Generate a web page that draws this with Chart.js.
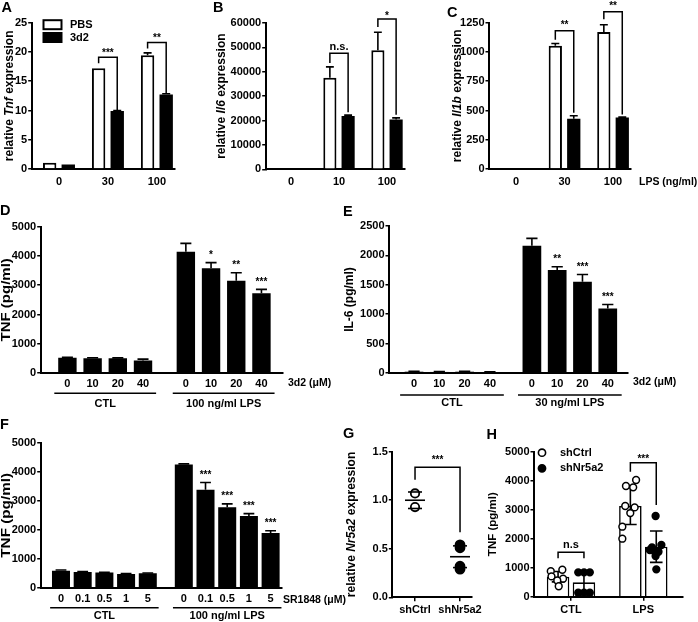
<!DOCTYPE html>
<html>
<head>
<meta charset="utf-8">
<script src="https://cdn.jsdelivr.net/npm/chart.js@4.4.1/dist/chart.umd.min.js"></script>
<style>
  html, body { margin: 0; padding: 0; background: #fff; }
  #fig { position: relative; width: 698px; height: 622px; overflow: hidden; }
  #fig canvas { position: absolute; left: 0; top: 0; }
</style>
</head>
<body>
<div id="fig"></div>
<script>
// ---- data ----
// A: relative Tnf expression
const aGroups = ["0", "30", "100"];
const aPBS = [1.05, 17.2, 19.45];
const aPBSErr = [0, 0, 0.4];
const a3d2 = [0.75, 9.9, 12.75];
const a3d2Err = [0, 0.1, 0.1];

// B: relative Il6 expression
const bGroups = ["0", "10", "100"];
const bPBS = [0, 37500, 48800];
const bPBSErr = [0, 4500, 7400];
const b3d2 = [0, 21900, 20400];
const b3d2Err = [0, 300, 700];

// C: relative Il1b expression
const cGroups = ["0", "30", "100"];
const cPBS = [0, 1052, 1170];
const cPBSErr = [0, 20, 62];
const c3d2 = [4, 430, 440];
const c3d2Err = [0, 25, 3];

// D: TNF, 3d2 doses
const dDoses = ["0", "10", "20", "40"];
const dCTL = [524, 501, 501, 430];
const dCTLErr = [15, 20, 15, 45];
const dLPS = [4146, 3576, 3155, 2722];
const dLPSErr = [285, 195, 273, 137];
const dStars = ["", "*", "**", "***"];

// E: IL-6, 3d2 doses
const eDoses = ["0", "10", "20", "40"];
const eCTL = [22, 18, 22, 15];
const eCTLErr = [6, 5, 6, 5];
const eLPS = [2165, 1750, 1551, 1097];
const eLPSErr = [125, 57, 125, 68];
const eStars = ["", "**", "***", "***"];

// F: TNF, SR1848 doses
const fDoses = ["0", "0.1", "0.5", "1", "5"];
const fCTL = [597, 552, 530, 485, 507];
const fCTLErr = [20, 10, 10, 10, 10];
const fLPS = [4248, 3380, 2783, 2479, 1893];
const fLPSErr = [25, 248, 113, 79, 79];
const fStars = ["", "***", "***", "***", "***"];

// G: relative Nr5a2 expression
const gGroups = ["shCtrl", "shNr5a2"];
const gCtrl = [1.07, 0.93];
const gKd = [0.54, 0.51, 0.32, 0.29];
const gMean = [1.0, 0.418];
const gSD = [0.085, 0.112];

// H: TNF, shCtrl vs shNr5a2
const hGroups = ["CTL", "LPS"];
const hCtrl = [690, 3128];
const hCtrlErr = [180, 640];
const hKd = [497, 1724];
const hKdErr = [370, 540];
// single wells; *J = sideways jitter inside the group (group units)
const hCtrlCTL = [880, 930, 700, 620, 560, 360];
const hCtrlCTLJ = [-0.28, -0.12, -0.27, -0.11, -0.19, -0.17];
const hCtrlLPS = [4024, 3817, 3772, 3128, 3080, 2885, 2414, 2000];
const hCtrlLPSJ = [-0.10, -0.24, -0.14, -0.25, -0.12, -0.18, -0.29, -0.29];
const hKdCTL = [841, 841, 841, 138, 138, 138];
const hKdCTLJ = [0.10, 0.18, 0.26, 0.10, 0.18, 0.26];
const hKdLPS = [2783, 1782, 1700, 1610, 1552, 1550, 1400, 943];
const hKdLPSJ = [0.17, 0.25, 0.12, 0.09, 0.16, 0.21, 0.17, 0.18];

// ---- drawing helpers ----
const W = 698, H = 622;
const FONT = "'Liberation Sans', Arial, sans-serif";
const fig = document.getElementById("fig");
const tickFont = { family: FONT, size: 11, weight: "bold" };

function font(size, italic) {
  return (italic ? "italic " : "") + "bold " + size + "px " + FONT;
}

function yAxis(bx, max, step, fmt) {
  return {
    type: "linear", min: 0, max: max,
    ticks: { stepSize: step, color: "#000", font: tickFont, padding: 1,
             callback: fmt || (v => String(v)) },
    grid: { display: true, drawOnChartArea: false, drawTicks: true, tickLength: 3.5,
            color: "#000", lineWidth: 1.5 },
    border: { display: true, color: "#000", width: 2 },
    afterFit: s => { s.width = bx.left; }
  };
}

function xAxis(bx, min, max, pos, labels, marks, pad) {
  return {
    type: "linear", min: min, max: max, offset: false, bounds: "data",
    afterBuildTicks: s => { s.ticks = pos.map(v => ({ value: v })); },
    ticks: { color: "#000", font: tickFont, padding: pad, autoSkip: false,
             maxRotation: 0, minRotation: 0, callback: (v, i) => labels[i] },
    grid: { display: true, drawOnChartArea: false, drawTicks: !!marks, tickLength: 4,
            color: "#000", lineWidth: 1.5, offset: false },
    border: { display: true, color: "#000", width: 2 },
    afterFit: s => { s.height = H - bx.bottom; }
  };
}

function bars(vals, pos, err, style) {
  return Object.assign({
    type: "bar",
    data: vals.map((v, i) => ({ x: pos[i], y: v })),
    err: err
  }, style);
}

const whiteBar = { backgroundColor: "#fff", borderColor: "#000", borderWidth: 2 };
const blackBar = { backgroundColor: "#000", borderColor: "#000", borderWidth: 0 };

function makeExtras(o) {
  return {
    id: "extras",
    afterDatasetDraw(chart, args) {
      const ds = chart.data.datasets[args.index];
      if (!ds.err) return;
      const ctx = chart.ctx, ys = chart.scales.y;
      ctx.save();
      ctx.strokeStyle = "#000";
      ctx.lineWidth = 1.6;
      args.meta.data.forEach((bar, i) => {
        const e = ds.err[i];
        if (!e) return;
        const v = ds.data[i].y;
        const top = ys.getPixelForValue(v + e);
        const bot = ds.errBoth ? ys.getPixelForValue(v - e) : bar.y;
        const cw = bar.width * (ds.cap || 0.3);
        ctx.beginPath();
        ctx.moveTo(bar.x, bot); ctx.lineTo(bar.x, top);
        ctx.moveTo(bar.x - cw, top); ctx.lineTo(bar.x + cw, top);
        if (ds.errBoth) { ctx.moveTo(bar.x - cw, bot); ctx.lineTo(bar.x + cw, bot); }
        ctx.stroke();
      });
      ctx.restore();
    },
    afterDraw(chart) {
      const ctx = chart.ctx, xs = chart.scales.x, ys = chart.scales.y, area = chart.chartArea;
      ctx.save();
      ctx.fillStyle = "#000";
      ctx.strokeStyle = "#000";
      ctx.lineWidth = 1.5;

      // panel letter
      ctx.font = font(14.5);
      ctx.textAlign = "left";
      ctx.textBaseline = "alphabetic";
      ctx.fillText(o.letter[0], o.letter[1], o.letter[2]);

      // y title, may mix italic gene names; stretch lengthens it along the axis
      ctx.save();
      ctx.translate(o.title.x, (area.top + area.bottom) / 2);
      ctx.rotate(-Math.PI / 2);
      ctx.scale(o.title.stretch || 1, 1);
      ctx.textBaseline = "middle";
      const parts = o.title.parts.map(p => ({ t: p[0], f: font(o.title.size || 12, p[1]) }));
      let tw = 0;
      parts.forEach(p => { ctx.font = p.f; p.w = ctx.measureText(p.t).width; tw += p.w; });
      let tx = -tw / 2;
      parts.forEach(p => { ctx.font = p.f; ctx.fillText(p.t, tx, 0); tx += p.w; });
      ctx.restore();

      // stars above error bars
      chart.data.datasets.forEach((ds, k) => {
        if (!ds.stars) return;
        const meta = chart.getDatasetMeta(k);
        ctx.font = font(10);
        ctx.textAlign = "center";
        ds.stars.forEach((s, i) => {
          if (!s) return;
          const v = ds.data[i].y + (ds.err ? ds.err[i] : 0);
          ctx.fillText(s, meta.data[i].x, ys.getPixelForValue(v) - 4.5);
        });
      });

      // significance brackets
      (o.brackets || []).forEach(b => {
        const xa = b.a ? chart.getDatasetMeta(b.a[0]).data[b.a[1]].x : xs.getPixelForValue(b.xa);
        const xb = b.b ? chart.getDatasetMeta(b.b[0]).data[b.b[1]].x : xs.getPixelForValue(b.xb);
        const yt = ys.getPixelForValue(b.top);
        ctx.beginPath();
        ctx.moveTo(xa, ys.getPixelForValue(b.ya));
        ctx.lineTo(xa, yt);
        ctx.lineTo(xb, yt);
        ctx.lineTo(xb, ys.getPixelForValue(b.yb));
        ctx.stroke();
        ctx.font = font(b.text.indexOf("n") === 0 ? 11 : 10);
        ctx.textAlign = "center";
        ctx.textBaseline = "alphabetic";
        ctx.fillText(b.text, (xa + xb) / 2, yt - b.gap);
      });

      // treatment groups under the x axis
      if (o.groups) {
        const g = o.groups;
        g.items.forEach(it => {
          const x1 = xs.getPixelForValue(it.from - g.ext);
          const x2 = xs.getPixelForValue(it.to + g.ext);
          ctx.beginPath();
          ctx.moveTo(x1, g.lineY); ctx.lineTo(x2, g.lineY);
          ctx.stroke();
          ctx.font = font(11);
          ctx.textAlign = "center";
          ctx.textBaseline = "middle";
          ctx.fillText(it.text, (x1 + x2) / 2, g.textY);
        });
      }

      // unit text at the end of the x axis
      if (o.unit) {
        ctx.font = font(10.5);
        ctx.textAlign = "left";
        ctx.textBaseline = "middle";
        ctx.fillText(o.unit[0], o.unit[1], o.unit[2]);
      }

      // legend
      (o.legend || []).forEach(it => {
        ctx.lineWidth = 2;
        if (it.kind === "box") {
          ctx.fillStyle = it.fill;
          ctx.fillRect(it.x, it.y - 4.5, 18, 9);
          ctx.strokeRect(it.x, it.y - 4.5, 18, 9);
        } else {
          ctx.beginPath();
          ctx.arc(it.x, it.y, 3.6, 0, Math.PI * 2);
          ctx.fillStyle = it.fill;
          ctx.fill();
          ctx.lineWidth = 1.6;
          ctx.stroke();
        }
        ctx.fillStyle = "#000";
        ctx.font = font(11);
        ctx.textAlign = "left";
        ctx.textBaseline = "middle";
        ctx.fillText(it.label, it.tx, it.y);
      });

      // mean and SD lines for dot plots
      if (o.meanSD) {
        ctx.lineWidth = 1.6;
        o.meanSD.mean.forEach((m, i) => {
          const x = xs.getPixelForValue(i);
          const hl = (y, half) => {
            const py = ys.getPixelForValue(y);
            ctx.beginPath(); ctx.moveTo(x - half, py); ctx.lineTo(x + half, py); ctx.stroke();
          };
          hl(m, 10);
          hl(m + o.meanSD.sd[i], 7);
          hl(m - o.meanSD.sd[i], 7);
        });
      }
      ctx.restore();
    }
  };
}

function draw(bx, type, datasets, scales, extra) {
  const cv = document.createElement("canvas");
  cv.width = W;
  cv.height = H;
  fig.appendChild(cv);
  return new Chart(cv, {
    type: type,
    data: { datasets: datasets },
    options: {
      responsive: false,
      animation: false,
      devicePixelRatio: 1,
      layout: { padding: { left: 0, top: bx.top, right: W - bx.right, bottom: 0 } },
      plugins: { legend: { display: false }, tooltip: { enabled: false } },
      scales: scales
    },
    plugins: [makeExtras(extra)]
  });
}

const idx = arr => arr.map((_, i) => i);
const shifted = (arr, s) => arr.map((_, i) => i + s);
const pair = { categoryPercentage: 0.76, barPercentage: 0.72 };

// ---- A ----
const boxA = { left: 31.7, top: 22.7, right: 175, bottom: 169 };
draw(boxA, "bar", [
  bars(aPBS, idx(aGroups), aPBSErr, Object.assign({}, whiteBar, pair)),
  bars(a3d2, idx(aGroups), a3d2Err, Object.assign({}, blackBar, pair))
], {
  x: xAxis(boxA, -0.557, 2.37, idx(aGroups), aGroups, false, 6),
  y: yAxis(boxA, 25, 5)
}, {
  letter: ["A", 1.5, 12],
  title: { x: 10, size: 12, parts: [["relative ", 0], ["Tnf", 1], [" expression", 0]] },
  legend: [
    { kind: "box", fill: "#fff", x: 43.5, y: 24.7, tx: 70, label: "PBS" },
    { kind: "box", fill: "#000", x: 43.5, y: 37.5, tx: 70, label: "3d2" }
  ],
  brackets: [
    { a: [0, 1], b: [1, 1], top: 19.1, ya: 18.05, yb: 10.1, text: "***", gap: 1.5 },
    { a: [0, 2], b: [1, 2], top: 21.6, ya: 20.6, yb: 12.9, text: "**", gap: 1.5 }
  ]
});

// ---- B ----
const boxB = { left: 265.7, top: 23, right: 405, bottom: 169.3 };
draw(boxB, "bar", [
  bars(bPBS, idx(bGroups), bPBSErr, Object.assign({}, whiteBar, pair)),
  bars(b3d2, idx(bGroups), b3d2Err, Object.assign({}, blackBar, pair))
], {
  x: xAxis(boxB, -0.527, 2.375, idx(bGroups), bGroups, false, 6),
  y: yAxis(boxB, 60000, 10000)
}, {
  letter: ["B", 213, 11.5],
  title: { x: 222, size: 12, parts: [["relative ", 0], ["Il6", 1], [" expression", 0]] },
  brackets: [
    { a: [0, 1], b: [1, 1], top: 47600, ya: 43600, yb: 23400, text: "n.s.", gap: 3 },
    { a: [0, 2], b: [1, 2], top: 61600, ya: 58400, yb: 22400, text: "*", gap: 0 }
  ]
});

// ---- C ----
const boxC = { left: 489, top: 22.7, right: 631, bottom: 169 };
draw(boxC, "bar", [
  bars(cPBS, idx(cGroups), cPBSErr, Object.assign({}, whiteBar, pair)),
  bars(c3d2, idx(cGroups), c3d2Err, Object.assign({}, blackBar, pair))
], {
  x: xAxis(boxC, -0.557, 2.37, idx(cGroups), cGroups, false, 6),
  y: yAxis(boxC, 1250, 250)
}, {
  letter: ["C", 447, 17],
  title: { x: 458, size: 12, parts: [["relative ", 0], ["Il1b", 1], [" expression", 0]] },
  unit: ["LPS (ng/ml)", 639, 182],
  brackets: [
    { a: [0, 1], b: [1, 1], top: 1181, ya: 1105, yb: 480, text: "**", gap: 2.5 },
    { a: [0, 2], b: [1, 2], top: 1344, ya: 1280, yb: 465, text: "**", gap: 2.5 }
  ]
});

// ---- D ----
const boxD = { left: 40.7, top: 226.7, right: 283, bottom: 373 };
const dShift = dDoses.length + 0.7;
const dBar = { categoryPercentage: 1, barPercentage: 0.73, grouped: false };
draw(boxD, "bar", [
  bars(dCTL, idx(dDoses), dCTLErr, Object.assign({}, blackBar, dBar)),
  bars(dLPS, shifted(dDoses, dShift), dLPSErr, Object.assign({ stars: dStars }, blackBar, dBar))
], {
  x: xAxis(boxD, -1.06, 8.555, idx(dDoses).concat(shifted(dDoses, dShift)), dDoses.concat(dDoses), false, 4),
  y: yAxis(boxD, 5000, 1000)
}, {
  letter: ["D", 0, 215],
  title: { x: 7, size: 12.5, stretch: 1.2, parts: [["TNF (pg/ml)", 0]] },
  unit: ["3d2 (\u03bcM)", 288, 383],
  groups: { ext: 0.52, lineY: 393.3, textY: 404,
            items: [{ from: 0, to: 3, text: "CTL" }, { from: dShift, to: dShift + 3, text: "100 ng/ml LPS" }] }
});

// ---- E ----
const boxE = { left: 389, top: 226, right: 628, bottom: 373 };
const eShift = eDoses.length + 0.66;
const eBar = { categoryPercentage: 1, barPercentage: 0.74, grouped: false };
draw(boxE, "bar", [
  bars(eCTL, idx(eDoses), eCTLErr, Object.assign({}, blackBar, eBar)),
  bars(eLPS, shifted(eDoses, eShift), eLPSErr, Object.assign({ stars: eStars }, blackBar, eBar))
], {
  x: xAxis(boxE, -0.99, 8.46, idx(eDoses).concat(shifted(eDoses, eShift)), eDoses.concat(eDoses), false, 4),
  y: yAxis(boxE, 2500, 500)
}, {
  letter: ["E", 343, 216],
  title: { x: 350, size: 12, parts: [["IL-6 (pg/ml)", 0]] },
  unit: ["3d2 (\u03bcM)", 633, 382],
  groups: { ext: 0.55, lineY: 395, textY: 402.5,
            items: [{ from: 0, to: 3, text: "CTL" }, { from: eShift, to: eShift + 3, text: "30 ng/ml LPS" }] }
});

// ---- F ----
const boxF = { left: 40.7, top: 442.7, right: 282, bottom: 588 };
const fShift = fDoses.length + 0.66;
const fBar = { categoryPercentage: 1, barPercentage: 0.83, grouped: false };
draw(boxF, "bar", [
  bars(fCTL, idx(fDoses), fCTLErr, Object.assign({}, blackBar, fBar)),
  bars(fLPS, shifted(fDoses, fShift), fLPSErr, Object.assign({ stars: fStars }, blackBar, fBar))
], {
  x: xAxis(boxF, -0.935, 10.185, idx(fDoses).concat(shifted(fDoses, fShift)), fDoses.concat(fDoses), false, 4),
  y: yAxis(boxF, 5000, 1000)
}, {
  letter: ["F", 0, 428.5],
  title: { x: 7, size: 12.5, stretch: 1.22, parts: [["TNF (pg/ml)", 0]] },
  unit: ["SR1848 (\u03bcM)", 283, 600],
  groups: { ext: 0.5, lineY: 607.7, textY: 615.7,
            items: [{ from: 0, to: 4, text: "CTL" }, { from: fShift, to: fShift + 4, text: "100 ng/ml LPS" }] }
});

// ---- G ----
const boxG = { left: 392.3, top: 451.7, right: 472, bottom: 597.3 };
const dot = (fill, r) => ({ type: "scatter", pointRadius: r, pointBorderWidth: 1.8, pointBackgroundColor: fill,
                           pointBorderColor: "#000", clip: false });
draw(boxG, "scatter", [
  Object.assign({ data: gCtrl.map(v => ({ x: 0, y: v })) }, dot("#fff", 4.2)),
  Object.assign({ data: gKd.map(v => ({ x: 1, y: v })) }, dot("#000", 4.5))
], {
  x: xAxis(boxG, -0.505, 1.266, idx(gGroups), gGroups, true, 2),
  y: yAxis(boxG, 1.5, 0.5, v => v.toFixed(1))
}, {
  letter: ["G", 343, 438],
  title: { x: 352, size: 12, parts: [["relative ", 0], ["Nr5a2", 1], [" expression", 0]] },
  meanSD: { mean: gMean, sd: gSD },
  brackets: [{ xa: 0, xb: 1, top: 1.34, ya: 1.21, yb: 0.67, text: "***", gap: 4.5 }]
});

// ---- H ----
const boxH = { left: 534, top: 451.7, right: 683, bottom: 596.7 };
const hBar = { categoryPercentage: 0.716, barPercentage: 0.87, order: 2, errBoth: true, cap: 0.28,
               backgroundColor: "#fff", borderColor: "#000", borderWidth: 1.6 };
const hDots = (ctl, ctlJ, lps, lpsJ, fill) => Object.assign({
  data: ctl.map((v, i) => ({ x: ctlJ[i], y: v })).concat(lps.map((v, i) => ({ x: 1 + lpsJ[i], y: v }))),
  order: 1
}, dot(fill, 3.4), { pointBorderWidth: 1.5 });
draw(boxH, "bar", [
  bars(hCtrl, idx(hGroups), hCtrlErr, hBar),
  bars(hKd, idx(hGroups), hKdErr, hBar),
  hDots(hCtrlCTL, hCtrlCTLJ, hCtrlLPS, hCtrlLPSJ, "#fff"),
  hDots(hKdCTL, hKdCTLJ, hKdLPS, hKdLPSJ, "#000")
], {
  x: xAxis(boxH, -0.512, 1.549, idx(hGroups), hGroups, true, 3),
  y: yAxis(boxH, 5000, 1000)
}, {
  letter: ["H", 486.5, 439],
  title: { x: 493, size: 11.5, parts: [["TNF (pg/ml)", 0]] },
  legend: [
    { kind: "dot", fill: "#fff", x: 542, y: 452.7, tx: 560, label: "shCtrl" },
    { kind: "dot", fill: "#000", x: 542, y: 468.3, tx: 560, label: "shNr5a2" }
  ],
  brackets: [
    { a: [0, 0], b: [1, 0], top: 1531, ya: 1324, yb: 1324, text: "n.s", gap: 4 },
    { a: [0, 1], b: [1, 1], top: 4621, ya: 4310, yb: 3162, text: "***", gap: 0.5 }
  ]
});
</script>
</body>
</html>
